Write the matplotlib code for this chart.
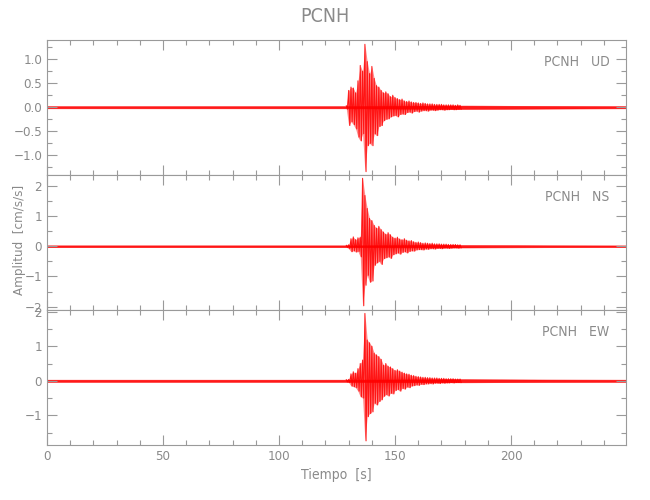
import numpy as np
import matplotlib
matplotlib.use("Agg")
import matplotlib.pyplot as plt
from matplotlib.ticker import MultipleLocator

plt.rcParams['font.family'] = ['DejaVu Sans']
plt.rcParams['font.stretch'] = 'condensed'

# station / component names
station = "PCNH"
components = ["UD", "NS", "EW"]

# burst: signed peak values read every 0.5 s starting at t0
t0 = 129.0
dt = 0.5
peaks_ud = [0.03, -0.04, 0.35, -0.38, 0.42, -0.30, 0.40, -0.36, 0.30, -0.45,
            0.55, -0.62, 0.87, -0.70, 0.75, -0.55, 1.31, -1.34, 0.95, -0.80,
            0.70, -0.75, 0.85, -0.80, 0.60, -0.55, 0.45, -0.59, 0.42, -0.40,
            0.35, -0.38, 0.30, -0.28, 0.32, -0.25, 0.28, -0.24, 0.22, -0.20,
            0.25, -0.18, 0.20, -0.17, 0.18, -0.20, 0.16, -0.15, 0.17, -0.14,
            0.13, -0.15, 0.12, -0.11, 0.13, -0.10, 0.11, -0.12, 0.10, -0.09,
            0.10, -0.08, 0.09, -0.10, 0.08, -0.08, 0.09, -0.07, 0.08, -0.07,
            0.07, -0.08, 0.07, -0.06, 0.07, -0.06, 0.06, -0.07, 0.06, -0.06,
            0.06, -0.05, 0.06, -0.05, 0.05, -0.06, 0.05, -0.05, 0.05, -0.05,
            0.05, -0.04, 0.05, -0.05, 0.04, -0.05, 0.05, -0.04, 0.04, -0.04]
peaks_ns = [0.03, -0.03, 0.05, -0.08, 0.25, -0.18, 0.31, -0.15, 0.22, -0.19,
            0.28, -0.17, 0.30, -0.35, 2.25, -1.97, 1.68, -1.29, 1.25, -0.96,
            0.92, -1.19, 0.85, -1.15, 0.69, -0.63, 0.60, -0.55, 0.66, -0.50,
            0.55, -0.60, 0.47, -0.41, 0.40, -0.38, 0.45, -0.35, 0.38, -0.40,
            0.30, -0.28, 0.27, -0.25, 0.30, -0.22, 0.24, -0.26, 0.22, -0.20,
            0.25, -0.18, 0.20, -0.22, 0.18, -0.17, 0.19, -0.15, 0.15, -0.16,
            0.13, -0.12, 0.14, -0.11, 0.12, -0.11, 0.10, -0.12, 0.11, -0.09,
            0.10, -0.10, 0.09, -0.08, 0.10, -0.08, 0.08, -0.09, 0.08, -0.07,
            0.08, -0.07, 0.07, -0.08, 0.07, -0.06, 0.07, -0.06, 0.06, -0.07,
            0.06, -0.06, 0.06, -0.05, 0.06, -0.05, 0.05, -0.06, 0.05, -0.05]
peaks_ew = [0.03, -0.03, 0.04, -0.05, 0.20, -0.15, 0.26, -0.17, 0.22, -0.20,
            0.35, -0.30, 0.50, -0.46, 0.60, -0.50, 1.95, -1.74, 1.18, -1.04,
            1.10, -0.95, 1.00, -0.90, 0.80, -0.65, 0.75, -0.70, 0.70, -0.60,
            0.62, -0.55, 0.45, -0.45, 0.50, -0.40, 0.42, -0.44, 0.40, -0.36,
            0.35, -0.38, 0.30, -0.28, 0.32, -0.25, 0.28, -0.30, 0.25, -0.22,
            0.22, -0.24, 0.20, -0.18, 0.19, -0.20, 0.16, -0.15, 0.15, -0.14,
            0.13, -0.12, 0.12, -0.13, 0.11, -0.10, 0.10, -0.11, 0.10, -0.09,
            0.09, -0.09, 0.09, -0.08, 0.08, -0.09, 0.08, -0.07, 0.08, -0.07,
            0.07, -0.08, 0.07, -0.06, 0.07, -0.07, 0.06, -0.06, 0.06, -0.06,
            0.06, -0.05, 0.06, -0.06, 0.05, -0.05, 0.05, -0.05, 0.05, -0.05]

# background noise envelope (half-width) over the whole record
env_t = [0.0, 129.0, 180.0, 215.0, 249.5]
env_ud = [0.022, 0.022, 0.035, 0.028, 0.022]
env_ns = [0.03, 0.03, 0.04, 0.032, 0.028]
env_ew = [0.032, 0.032, 0.045, 0.036, 0.032]

y_limits = [(-1.41, 1.40), (-2.11, 2.36), (-1.86, 2.05)]
y_major = [0.5, 1.0, 1.0]
y_minor = [0.25, 0.5, 0.5]
x_max = 249.5

peaks = [peaks_ud, peaks_ns, peaks_ew]
envs = [env_ud, env_ns, env_ew]

grey = '#9a9a9a'
txt = '#8a8a8a'
fig, axes = plt.subplots(3, 1, figsize=(6.5, 5.0), dpi=100, sharex=True)
fig.subplots_adjust(left=0.0723, right=0.963, top=0.92, bottom=0.11, hspace=0)

for ax, comp, pk, env, ylim, maj, mnr in zip(axes, components, peaks, envs,
                                              y_limits, y_major, y_minor):
    ax.fill_between(env_t, [-e for e in env], env, color='#ff0000', lw=0.4, alpha=0.9)
    t = t0 + dt * np.arange(len(pk))
    # lighter body between successive positive and negative peaks
    ax.fill_between(t[::2], pk[::2], pk[1::2], color='#ff0000', alpha=0.45, lw=0)
    ax.plot(t, pk, color='#ff0000', lw=0.8, alpha=0.85)
    ax.set_xlim(0, x_max)
    ax.set_ylim(*ylim)
    ax.xaxis.set_major_locator(MultipleLocator(50))
    ax.xaxis.set_minor_locator(MultipleLocator(10))
    ax.yaxis.set_major_locator(MultipleLocator(maj))
    ax.yaxis.set_minor_locator(MultipleLocator(mnr))
    if maj < 1:
        ax.yaxis.set_major_formatter(lambda v, p: ('%.1f' % v).replace('-', '\u2212'))
    else:
        ax.yaxis.set_major_formatter(lambda v, p: ('%d' % round(v)).replace('-', '\u2212'))
    ax.tick_params(which='both', direction='in', top=True, right=True,
                   colors=grey, labelcolor=txt, labelsize=9.5, width=0.8)
    ax.tick_params(which='major', length=7)
    ax.tick_params(which='minor', length=3.5)
    for s in ax.spines.values():
        s.set_color(grey)
        s.set_linewidth(0.8)
    ax.text(0.972, 0.835, station + "   " + comp, transform=ax.transAxes,
            ha='right', va='center', color=txt, fontsize=10)

axes[-1].set_xlabel("Tiempo  [s]", color=txt, fontsize=10, labelpad=4)
fig.text(0.03, 0.52, "Amplitud  [cm/s/s]", rotation=90, ha='center', va='center',
         color=txt, fontsize=9.5)
fig.suptitle(station, y=0.966, va='center', color=txt, fontsize=14)

fig.savefig("out.png", dpi=100)
